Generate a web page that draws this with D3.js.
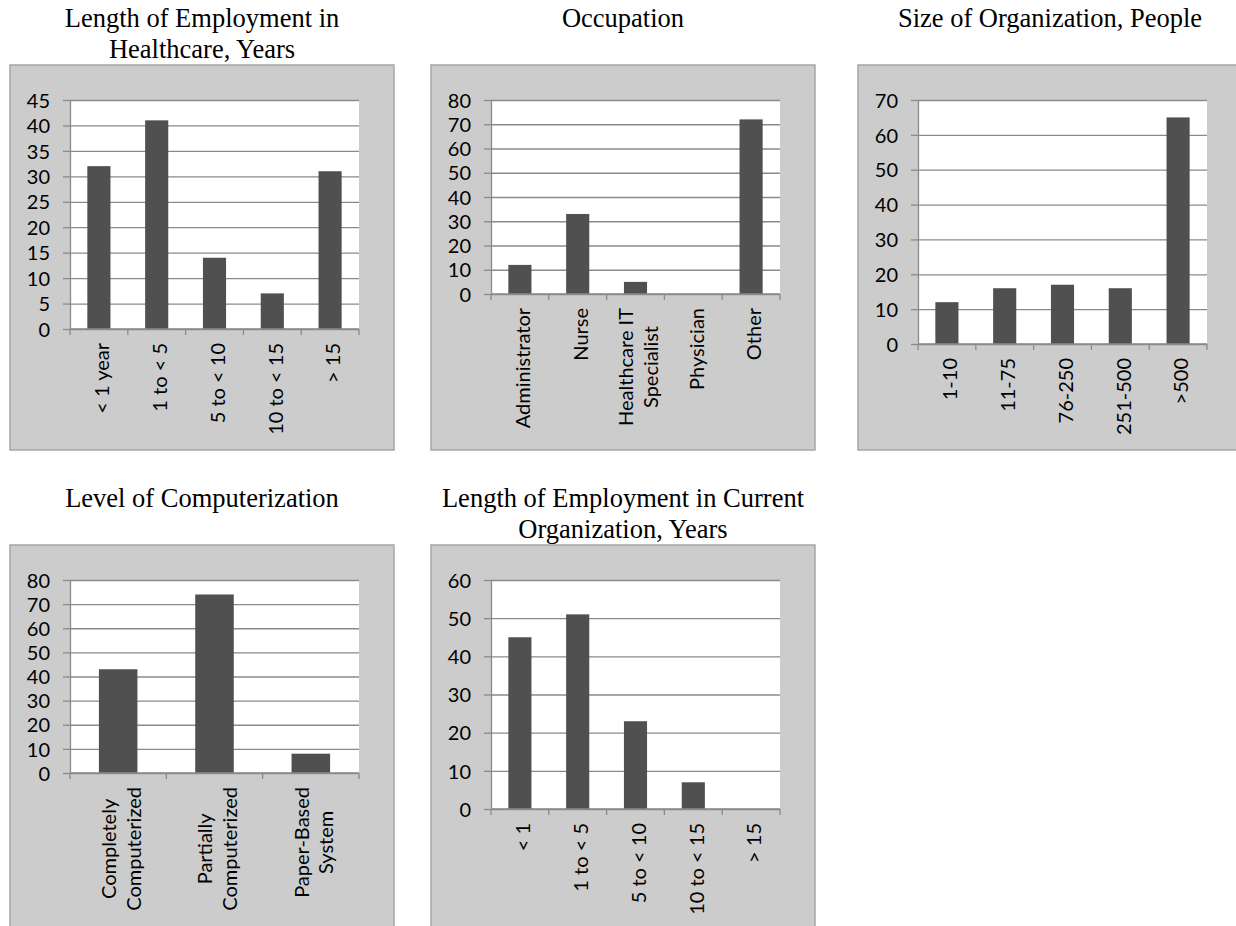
<!DOCTYPE html>
<html>
<head>
<meta charset="utf-8">
<script src="https://cdn.jsdelivr.net/npm/d3@7"></script>
<style>
  html, body { margin: 0; padding: 0; background: #ffffff; }
  svg { display: block; }
  .title { font-family: "Liberation Serif", "Times New Roman", serif; font-size: 26.5px; fill: #000; }
  .tick text, .cat-label { font-family: Lato, "Noto Sans", sans-serif; font-size: 20px; fill: #000; }
</style>
</head>
<body>
<svg id="chart" width="1236" height="926"></svg>
<script>
// ---- Survey results: one small bar chart per question ----
const tenureHealthcareTitle = ["Length of Employment in", "Healthcare, Years"];
const tenureHealthcareCats = ["< 1 year", "1 to < 5", "5 to < 10", "10 to < 15", "> 15"];
const tenureHealthcareVals = [32, 41, 14, 7, 31];
const tenureHealthcareTicks = [0, 5, 10, 15, 20, 25, 30, 35, 40, 45];

const occupationTitle = ["Occupation"];
const occupationCats = ["Administrator", "Nurse", "Healthcare IT\nSpecialist", "Physician", "Other"];
const occupationVals = [12, 33, 5, 0, 72];
const occupationTicks = [0, 10, 20, 30, 40, 50, 60, 70, 80];

const orgSizeTitle = ["Size of Organization, People"];
const orgSizeCats = ["1-10", "11-75", "76-250", "251-500", ">500"];
const orgSizeVals = [12, 16, 17, 16, 65];
const orgSizeTicks = [0, 10, 20, 30, 40, 50, 60, 70];

const computerizationTitle = ["Level of Computerization"];
const computerizationCats = ["Completely\nComputerized", "Partially\nComputerized", "Paper-Based\nSystem"];
const computerizationVals = [43, 74, 8];
const computerizationTicks = [0, 10, 20, 30, 40, 50, 60, 70, 80];

const tenureCurrentTitle = ["Length of Employment in Current", "Organization, Years"];
const tenureCurrentCats = ["< 1", "1 to < 5", "5 to < 10", "10 to < 15", "> 15"];
const tenureCurrentVals = [45, 51, 23, 7, 0];
const tenureCurrentTicks = [0, 10, 20, 30, 40, 50, 60];

// ---- Layout of the five panels ----
const FRAME_W = 384, FRAME_H = 385;
const panels = [
  { title: tenureHealthcareTitle, cats: tenureHealthcareCats, vals: tenureHealthcareVals, ticks: tenureHealthcareTicks, fx: 10,  fy: 65,  plotH: 229 },
  { title: occupationTitle,       cats: occupationCats,       vals: occupationVals,       ticks: occupationTicks,       fx: 431, fy: 65,  plotH: 194 },
  { title: orgSizeTitle,          cats: orgSizeCats,          vals: orgSizeVals,          ticks: orgSizeTicks,          fx: 858, fy: 65,  plotH: 244 },
  { title: computerizationTitle,  cats: computerizationCats,  vals: computerizationVals,  ticks: computerizationTicks,  fx: 10,  fy: 545, plotH: 193 },
  { title: tenureCurrentTitle,    cats: tenureCurrentCats,    vals: tenureCurrentVals,    ticks: tenureCurrentTicks,    fx: 431, fy: 545, plotH: 229 }
];

const svg = d3.select("#chart");
const GRID = "#8a8a8a";

panels.forEach(p => {
  const g = svg.append("g");

  // outer grey frame
  g.append("rect")
    .attr("x", p.fx).attr("y", p.fy)
    .attr("width", FRAME_W).attr("height", FRAME_H)
    .attr("fill", "#cccccc").attr("stroke", "#a6a6a6").attr("stroke-width", 1.5);

  // title, centred above the frame
  const title = g.append("text").attr("class", "title").attr("text-anchor", "middle");
  p.title.forEach((line, i) => {
    title.append("tspan").attr("x", p.fx + FRAME_W / 2).attr("y", p.fy - 38 + i * 31).text(line);
  });

  const left = p.fx + 60, right = p.fx + 349, top = p.fy + 35, bottom = top + p.plotH;

  const x = d3.scaleBand().domain(p.cats).range([left, right]).paddingInner(0.6).paddingOuter(0.3);
  const y = d3.scaleLinear().domain([0, d3.max(p.ticks)]).range([bottom, top]);

  // white plot area
  g.append("rect").attr("x", left).attr("y", top).attr("width", right - left).attr("height", bottom - top).attr("fill", "#ffffff");

  // horizontal gridlines
  const grid = g.append("g").attr("transform", `translate(${left},0)`)
    .call(d3.axisLeft(y).tickValues(p.ticks).tickSize(-(right - left)).tickFormat(""));
  grid.select(".domain").remove();
  grid.selectAll(".tick line").attr("stroke", GRID).attr("stroke-width", 1.3);

  // y axis with outward ticks
  const yAx = g.append("g").attr("transform", `translate(${left},0)`)
    .call(d3.axisLeft(y).tickValues(p.ticks).tickSize(7).tickPadding(13).tickSizeOuter(0));
  yAx.select(".domain").attr("stroke", GRID).attr("stroke-width", 1.3);
  yAx.selectAll(".tick line").attr("stroke", GRID).attr("stroke-width", 1.3);
  yAx.selectAll(".tick text").attr("dy", "0.36em");

  // bars
  g.append("g").selectAll("rect").data(p.cats).join("rect")
    .attr("x", d => x(d))
    .attr("y", (d, i) => y(p.vals[i]))
    .attr("width", x.bandwidth())
    .attr("height", (d, i) => y(0) - y(p.vals[i]))
    .attr("fill", "#505050");

  // x axis line with ticks at category boundaries
  const step = x.step();
  const bounds = d3.range(p.cats.length + 1).map(i => left + i * step);
  g.append("line").attr("x1", left).attr("x2", right).attr("y1", bottom).attr("y2", bottom)
    .attr("stroke", GRID).attr("stroke-width", 1.3);
  g.append("g").selectAll("line").data(bounds).join("line")
    .attr("x1", d => d).attr("x2", d => d).attr("y1", bottom).attr("y2", bottom + 6)
    .attr("stroke", GRID).attr("stroke-width", 1.3);

  // rotated category labels (multi-line labels are centred on their longest line)
  const labelTop = bottom + 14;
  p.cats.forEach(c => {
    const lines = c.split("\n");
    const cx = x(c) + x.bandwidth() / 2;
    const lg = g.append("g");
    const texts = lines.map(line => lg.append("text").attr("class", "cat-label").text(line));
    const lens = texts.map(t => t.node().getComputedTextLength());
    const maxLen = d3.max(lens);
    const lineGap = 24.5;
    texts.forEach((t, i) => {
      const offset = (i - (lines.length - 1) / 2) * lineGap;
      const px = cx + offset + 3;
      if (lines.length === 1) {
        t.attr("text-anchor", "end")
          .attr("transform", `translate(${px},${labelTop}) rotate(-90)`)
          .attr("dy", "0.36em");
      } else {
        t.attr("text-anchor", "middle")
          .attr("transform", `translate(${px},${labelTop + maxLen / 2}) rotate(-90)`)
          .attr("dy", "0.36em");
      }
    });
  });
});
</script>
</body>
</html>
